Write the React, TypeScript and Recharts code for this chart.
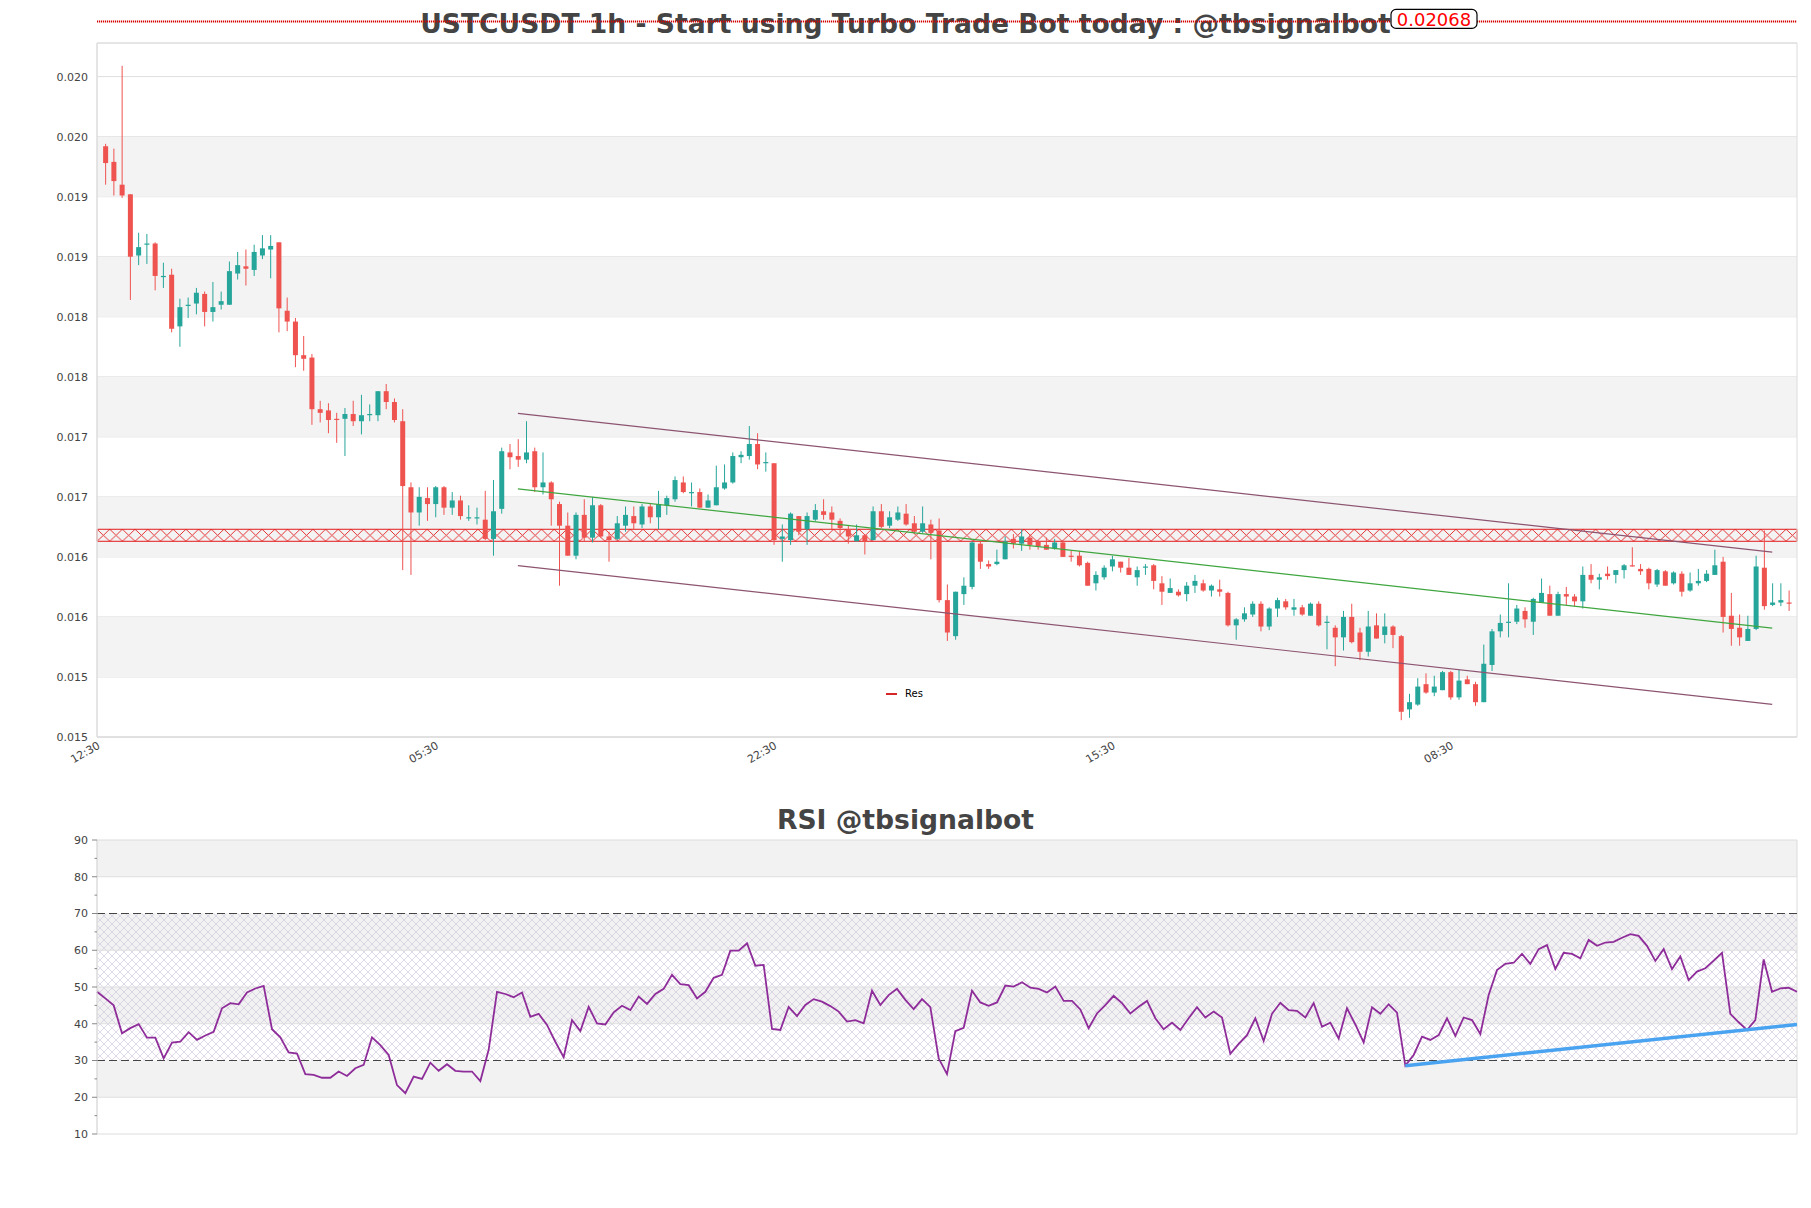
import React from 'react';
import {
  ComposedChart,
  Bar,
  Line,
  XAxis,
  YAxis,
  CartesianGrid,
  ReferenceArea,
  ReferenceLine,
  Legend,
} from 'recharts';

// ---- price data (hourly candles) ----
const opens = [
  0.01964, 0.01951, 0.01932, 0.01924, 0.01873, 0.01882, 0.01883, 0.01855, 0.01857, 0.01814,
  0.01831, 0.01833, 0.01841, 0.01826, 0.01832, 0.01832, 0.01858, 0.01864, 0.01861, 0.01873,
  0.01878, 0.01884, 0.01827, 0.01818, 0.0179, 0.01788, 0.01745, 0.01744, 0.01737, 0.01737,
  0.01741, 0.01735, 0.0174, 0.0174, 0.0176, 0.01751, 0.01735, 0.0168, 0.01659, 0.01671,
  0.01666, 0.0168, 0.01663, 0.01669, 0.01654, 0.01654, 0.01653, 0.01637, 0.01662, 0.01709,
  0.01706, 0.01703, 0.0171, 0.0168, 0.01684, 0.01666, 0.01648, 0.01623, 0.01657, 0.01638,
  0.01665, 0.01639, 0.01637, 0.01648, 0.01656, 0.01649, 0.01664, 0.01655, 0.01665, 0.0167,
  0.01684, 0.01675, 0.01676, 0.01663, 0.01665, 0.01679, 0.01684, 0.01705, 0.01706, 0.01716,
  0.017, 0.017, 0.01637, 0.01636, 0.01656, 0.01645, 0.01653, 0.0166, 0.01659, 0.01652,
  0.01645, 0.01635, 0.0164, 0.01636, 0.0166, 0.01648, 0.01653, 0.01658, 0.0165, 0.01643,
  0.01649, 0.01644, 0.01586, 0.01556, 0.01591, 0.01597, 0.01633, 0.01616, 0.01616, 0.0162,
  0.01637, 0.01633, 0.01638, 0.01635, 0.01632, 0.01629, 0.01634, 0.01623, 0.01623, 0.01617,
  0.016, 0.01605, 0.01614, 0.01618, 0.01613, 0.01605, 0.01613, 0.01615, 0.016, 0.01592,
  0.01593, 0.01591, 0.01598, 0.016, 0.01594, 0.01595, 0.01592, 0.01565, 0.0157, 0.01574,
  0.01583, 0.01564, 0.01579, 0.01585, 0.01578, 0.0158, 0.01573, 0.01583, 0.01567, 0.01563,
  0.01555, 0.01572, 0.01559, 0.01543, 0.01565, 0.01557, 0.01564, 0.01556, 0.01495, 0.01499,
  0.01516, 0.01509, 0.01511, 0.01526, 0.01505, 0.0152, 0.01516, 0.01501, 0.01532, 0.0156,
  0.01567, 0.01568, 0.01577, 0.01568, 0.01584, 0.01591, 0.01573, 0.01591, 0.01589, 0.01585,
  0.01607, 0.01603, 0.01608, 0.01607, 0.01611, 0.01615, 0.01612, 0.01612, 0.01599, 0.0161,
  0.016, 0.01608, 0.01594, 0.016, 0.01602, 0.01607, 0.01618, 0.01573, 0.01563, 0.01552,
  0.01562, 0.01613, 0.01582, 0.01584, 0.01584,
];

const highs = [
  0.01966, 0.01962, 0.02031, 0.01924, 0.01892, 0.01891, 0.01884, 0.01867, 0.01862, 0.01837,
  0.01838, 0.01846, 0.01843, 0.01851, 0.01843, 0.01868, 0.01876, 0.01878, 0.01882, 0.0189,
  0.0189, 0.01884, 0.01838, 0.01821, 0.01806, 0.01791, 0.01752, 0.0175, 0.01742, 0.01746,
  0.01752, 0.01757, 0.01749, 0.0176, 0.01766, 0.01754, 0.01745, 0.01684, 0.0168, 0.0168,
  0.01681, 0.01681, 0.01676, 0.01673, 0.01665, 0.01663, 0.01677, 0.01686, 0.01713, 0.01716,
  0.0172, 0.01735, 0.01713, 0.01709, 0.01685, 0.01668, 0.01659, 0.01659, 0.0167, 0.01672,
  0.01666, 0.01643, 0.01656, 0.01664, 0.01664, 0.01666, 0.01666, 0.01677, 0.01673, 0.01689,
  0.01689, 0.01684, 0.01679, 0.01674, 0.01698, 0.01699, 0.01709, 0.0171, 0.01731, 0.01725,
  0.01709, 0.017, 0.01649, 0.01659, 0.01656, 0.01659, 0.01666, 0.0167, 0.01664, 0.01654,
  0.01648, 0.01649, 0.01641, 0.01664, 0.01666, 0.0166, 0.01664, 0.01666, 0.01656, 0.01664,
  0.01653, 0.01654, 0.01599, 0.01593, 0.01605, 0.01635, 0.01635, 0.01619, 0.01628, 0.01639,
  0.01641, 0.01645, 0.01641, 0.01636, 0.01638, 0.01637, 0.01635, 0.01627, 0.01627, 0.01618,
  0.0161, 0.01615, 0.01623, 0.01618, 0.01621, 0.01614, 0.01616, 0.01616, 0.01606, 0.01604,
  0.01595, 0.01601, 0.01607, 0.01603, 0.01599, 0.01603, 0.01593, 0.01571, 0.0158, 0.01585,
  0.01585, 0.0158, 0.01588, 0.01587, 0.01587, 0.01582, 0.01584, 0.01585, 0.01573, 0.01565,
  0.01577, 0.01583, 0.01563, 0.01577, 0.01575, 0.01575, 0.01565, 0.01557, 0.01508, 0.01521,
  0.01525, 0.01523, 0.01527, 0.01527, 0.01528, 0.01523, 0.01518, 0.01549, 0.01562, 0.01574,
  0.016, 0.01582, 0.0158, 0.01588, 0.01604, 0.01598, 0.01593, 0.01597, 0.01591, 0.01614,
  0.01616, 0.01608, 0.01614, 0.01611, 0.01616, 0.0163, 0.01616, 0.01613, 0.01612, 0.01611,
  0.0161, 0.0161, 0.01609, 0.01612, 0.01611, 0.01628, 0.01622, 0.01592, 0.01574, 0.01573,
  0.01623, 0.01644, 0.016, 0.016, 0.01594,
];

const lows = [
  0.01932, 0.01923, 0.01921, 0.01836, 0.01865, 0.01866, 0.01844, 0.01846, 0.01809, 0.01797,
  0.01821, 0.01824, 0.01814, 0.01818, 0.01828, 0.01832, 0.01853, 0.01848, 0.01856, 0.0187,
  0.01854, 0.01809, 0.0181, 0.0178, 0.01777, 0.01732, 0.01734, 0.01725, 0.01717, 0.01706,
  0.01731, 0.01724, 0.01735, 0.01735, 0.01745, 0.01734, 0.01611, 0.01607, 0.01648, 0.01652,
  0.01655, 0.01657, 0.01657, 0.01653, 0.01652, 0.01649, 0.01636, 0.01623, 0.01658, 0.01695,
  0.01697, 0.017, 0.01676, 0.01674, 0.01648, 0.01598, 0.01623, 0.0162, 0.01635, 0.01634,
  0.01638, 0.01618, 0.01636, 0.01643, 0.01645, 0.01646, 0.0165, 0.01645, 0.01657, 0.01668,
  0.01675, 0.01664, 0.01663, 0.01663, 0.01665, 0.01678, 0.01683, 0.017, 0.01703, 0.01695,
  0.01693, 0.01632, 0.01618, 0.01632, 0.0164, 0.01632, 0.01652, 0.01653, 0.01645, 0.01639,
  0.01633, 0.01635, 0.01624, 0.01636, 0.01646, 0.01646, 0.01652, 0.01648, 0.01641, 0.01642,
  0.0162, 0.01584, 0.01552, 0.01553, 0.01582, 0.01595, 0.01612, 0.01612, 0.01615, 0.0162,
  0.01629, 0.01627, 0.01628, 0.01628, 0.01628, 0.01628, 0.01622, 0.01618, 0.01614, 0.01598,
  0.01594, 0.01603, 0.0161, 0.01609, 0.01607, 0.01598, 0.01607, 0.01595, 0.01582, 0.01592,
  0.01589, 0.01585, 0.01592, 0.01593, 0.01589, 0.01589, 0.01564, 0.01553, 0.01568, 0.01572,
  0.0156, 0.01561, 0.01572, 0.01578, 0.01573, 0.01573, 0.01573, 0.01564, 0.01545, 0.01531,
  0.01544, 0.0155, 0.01536, 0.01539, 0.01554, 0.0155, 0.01546, 0.01486, 0.01488, 0.01498,
  0.01508, 0.01506, 0.01511, 0.01503, 0.01503, 0.01516, 0.01498, 0.01501, 0.01527, 0.01555,
  0.01555, 0.01566, 0.01563, 0.01557, 0.01584, 0.01573, 0.01573, 0.01582, 0.01581, 0.01579,
  0.016, 0.01595, 0.01603, 0.016, 0.01604, 0.01614, 0.01607, 0.01595, 0.01597, 0.01598,
  0.01599, 0.01589, 0.01593, 0.01598, 0.01601, 0.01607, 0.01559, 0.01548, 0.01548, 0.01552,
  0.01561, 0.01578, 0.01581, 0.01581, 0.01577,
];

const closes = [
  0.0195, 0.01935, 0.01923, 0.01872, 0.0188, 0.01883, 0.01856, 0.01856, 0.01812, 0.0183,
  0.01832, 0.01842, 0.01826, 0.0183, 0.01835, 0.0186, 0.01865, 0.01862, 0.01876, 0.01879,
  0.01881, 0.01829, 0.01818, 0.0179, 0.01787, 0.01745, 0.01742, 0.01736, 0.01736, 0.01741,
  0.01735, 0.0174, 0.01741, 0.0176, 0.01751, 0.01736, 0.01681, 0.01659, 0.01672, 0.01666,
  0.0168, 0.01663, 0.01669, 0.01656, 0.01655, 0.01655, 0.01637, 0.0166, 0.0171, 0.01705,
  0.01703, 0.01709, 0.0168, 0.01684, 0.0167, 0.01648, 0.01623, 0.01657, 0.01638, 0.01665,
  0.01639, 0.01636, 0.0165, 0.01657, 0.0165, 0.01664, 0.01655, 0.01666, 0.01671, 0.01686,
  0.01676, 0.01676, 0.01663, 0.01669, 0.0168, 0.01684, 0.01706, 0.01707, 0.01716, 0.01699,
  0.01701, 0.01636, 0.01639, 0.01658, 0.01643, 0.01656, 0.01661, 0.01657, 0.01653, 0.01646,
  0.01639, 0.0164, 0.01635, 0.0166, 0.01647, 0.01655, 0.01659, 0.01649, 0.01643, 0.0165,
  0.01642, 0.01586, 0.01559, 0.01593, 0.01598, 0.01634, 0.01618, 0.01614, 0.01618, 0.01635,
  0.01633, 0.01639, 0.01632, 0.01631, 0.01628, 0.01634, 0.01622, 0.01622, 0.01615, 0.01598,
  0.01607, 0.01613, 0.0162, 0.01613, 0.01607, 0.01611, 0.01614, 0.01602, 0.01593, 0.01596,
  0.0159, 0.01598, 0.01602, 0.01594, 0.01598, 0.01593, 0.01565, 0.0157, 0.01575, 0.01583,
  0.01564, 0.01579, 0.01586, 0.0158, 0.0158, 0.01574, 0.01583, 0.01565, 0.01568, 0.01555,
  0.01572, 0.01551, 0.01543, 0.01564, 0.01554, 0.01564, 0.01557, 0.01493, 0.01501, 0.01514,
  0.01509, 0.01514, 0.01526, 0.01505, 0.01519, 0.01516, 0.01501, 0.01533, 0.0156, 0.01567,
  0.01568, 0.01579, 0.0157, 0.01587, 0.01592, 0.01573, 0.01591, 0.01589, 0.01585, 0.01607,
  0.01603, 0.01605, 0.01606, 0.01611, 0.01615, 0.01614, 0.0161, 0.016, 0.01611, 0.01598,
  0.01609, 0.01593, 0.016, 0.01602, 0.01608, 0.01615, 0.01572, 0.01562, 0.01555, 0.01562,
  0.01614, 0.01581, 0.01584, 0.01586, 0.01583,
];

// ---- RSI ----
const rsiValues = [
  48.7, 46.9, 45.0, 37.4, 38.8, 39.9, 36.2, 36.2, 30.6, 34.9,
  35.1, 37.7, 35.6, 36.8, 37.8, 44.2, 45.6, 45.3, 48.5, 49.6,
  50.3, 38.5, 36.3, 32.2, 31.9, 26.3, 26.1, 25.3, 25.3, 27.0,
  25.8, 27.9, 28.8, 36.3, 34.2, 31.5, 23.3, 21.1, 25.6, 25.0,
  29.4, 27.2, 29.0, 27.2, 27.0, 27.0, 24.4, 32.9, 48.7, 48.1,
  47.2, 48.5, 41.9, 42.7, 39.7, 35.1, 30.9, 41.0, 38.0, 44.6,
  40.1, 39.8, 43.1, 44.9, 43.7, 47.4, 45.4, 48.1, 49.5, 53.3,
  50.8, 50.5, 46.9, 48.7, 52.5, 53.3, 59.9, 59.9, 61.9, 55.8,
  56.0, 38.6, 38.3, 44.6, 42.1, 45.1, 46.7, 46.0, 44.8, 43.3,
  40.6, 41.0, 40.1, 49.0, 45.1, 47.8, 49.5, 46.5, 44.0, 46.7,
  44.5, 30.6, 26.3, 38.0, 38.9, 49.0, 45.8, 44.9, 45.8, 50.4,
  50.1, 51.3, 49.8, 49.5, 48.5, 50.1, 46.2, 46.2, 43.9, 38.8,
  42.8, 45.1, 47.6, 45.6, 42.8, 44.6, 46.2, 41.5, 38.5, 40.3,
  38.3, 41.5, 44.5, 41.7, 43.3, 41.7, 31.8, 34.5, 36.9, 41.5,
  35.3, 42.7, 45.7, 43.7, 43.5, 41.7, 45.6, 39.2, 40.3, 36.0,
  44.2, 39.8, 34.9, 44.5, 42.7, 45.3, 43.0, 28.6, 31.5, 36.5,
  35.6, 36.9, 41.5, 36.7, 41.7, 41.0, 37.2, 47.8, 54.6, 56.3,
  56.6, 59.0, 56.3, 60.3, 61.4, 54.9, 59.3, 59.0, 57.8, 62.8,
  61.2, 62.1, 62.3, 63.4, 64.4, 63.9, 61.2, 57.1, 60.3, 54.9,
  58.3, 51.9, 54.2, 55.1, 57.2, 59.3, 42.7, 40.4, 38.3, 41.0,
  57.5, 48.7, 49.6, 49.8, 48.7,
];

// ---- axes / annotations ----
const xTickIdx = [-1, 40, 81, 122, 163];
const xTickLabels = ['12:30', '05:30', '22:30', '15:30', '08:30'];
const yTicks = [0.01472, 0.01522, 0.01572, 0.01622, 0.01672, 0.01722, 0.01772, 0.01822, 0.01872, 0.01922, 0.01972, 0.02022];
const yTickLabels = ['0.015', '0.015', '0.016', '0.016', '0.017', '0.017', '0.018', '0.018', '0.019', '0.019', '0.020', '0.020'];
const priceBands = [[0.01522, 0.01572], [0.01622, 0.01672], [0.01722, 0.01772], [0.01822, 0.01872], [0.01922, 0.01972]];
const resZone = [0.01635, 0.01645];
const channelUpper = [{ x: 50, y: 0.017416 }, { x: 202, y: 0.016259 }];
const channelMid = [{ x: 50, y: 0.016787 }, { x: 202, y: 0.015626 }];
const channelLower = [{ x: 50, y: 0.016148 }, { x: 202, y: 0.014992 }];
const markPrice = 0.02068;

const rsiTicks = [10, 15, 20, 25, 30, 35, 40, 45, 50, 55, 60, 65, 70, 75, 80, 85, 90];
const rsiGrid = [20, 40, 50, 60, 80];
const rsiBands = [[20, 30], [40, 50], [60, 70], [80, 90]];
const rsiTrend = [{ x: 157, y: 28.6 }, { x: 204, y: 39.8 }];

const candles = opens.map((o, i) => ({ idx: i, open: o, high: highs[i], low: lows[i], close: closes[i] }));
const rsiData = rsiValues.map((v, k) => ({ k, rsi: v }));

const UP = '#26a69a';
const DOWN = '#ef5350';
const FONT = '"DejaVu Sans", sans-serif';

const Candle = (props: any) => {
  const { x, y, width, height, payload } = props;
  if (x == null || y == null || !payload) return null;
  const { open, close, high, low } = payload;
  const top = Math.min(y, y + height);
  const bot = Math.max(y, y + height);
  const span = high - low;
  const toY = (p: number) => (span > 0 ? top + ((high - p) / span) * (bot - top) : top);
  const cx = x + width / 2;
  const color = close >= open ? UP : DOWN;
  const bTop = toY(Math.max(open, close));
  const bBot = toY(Math.min(open, close));
  return (
    <g>
      <line x1={cx} x2={cx} y1={top} y2={bot} stroke={color} strokeWidth={1} />
      <rect x={cx - 2.5} y={bTop} width={5} height={Math.max(bBot - bTop, 1)} fill={color} />
    </g>
  );
};

const RsiTick = (props: any) => {
  const { x, y, payload } = props;
  const major = payload.value % 10 === 0;
  return (
    <g>
      <line x1={x + (major ? 4 : 6.5)} x2={x + 9} y1={y} y2={y} stroke="#888" strokeWidth={1} />
      {major && (
        <text x={x} y={y} dy="0.35em" textAnchor="end" fontSize={11} fill="#444" fontFamily={FONT}>
          {payload.value}
        </text>
      )}
    </g>
  );
};

const PriceTag = (props: any) => {
  const vb = props.viewBox || {};
  const x0 = (vb.x || 0) + 1294;
  const y0 = vb.y || 0;
  return (
    <g>
      <rect x={x0} y={y0 - 12} width={86} height={19} rx={5} fill="#fff" stroke="#000" strokeWidth={1.2} />
      <text x={x0 + 43} y={y0 + 4.5} textAnchor="middle" fontSize={18} fill="#ff0000" fontFamily={FONT}>
        {markPrice.toFixed(5)}
      </text>
    </g>
  );
};

const ResLegend = () => (
  <div style={{ display: 'flex', alignItems: 'center', fontSize: 10, color: '#000', fontFamily: FONT }}>
    <span style={{ display: 'inline-block', width: 11, height: 2, background: '#d62728', marginRight: 8 }} />
    Res
  </div>
);

const yLabel = (v: number) => {
  let best = 0;
  yTicks.forEach((t, i) => {
    if (Math.abs(t - v) < Math.abs(yTicks[best] - v)) best = i;
  });
  return yTickLabels[best];
};

const xLabel = (v: number) => {
  const i = xTickIdx.indexOf(Math.round(v));
  return i >= 0 ? xTickLabels[i] : '';
};

const titleStyle: React.CSSProperties = {
  position: 'absolute',
  left: 0,
  width: 1811,
  textAlign: 'center',
  fontFamily: FONT,
  fontWeight: 'bold',
  fontSize: 26.6,
  lineHeight: '27px',
  color: '#444',
  whiteSpace: 'nowrap',
};

export default function App() {
  return (
    <div style={{ position: 'absolute', left: 0, top: 0, width: 1811, height: 1208, background: '#fff', fontFamily: FONT }}>
      <div style={{ ...titleStyle, top: 10 }}>USTCUSDT 1h - Start using Turbo Trade Bot today : @tbsignalbot</div>
      <div style={{ ...titleStyle, top: 806 }}>RSI @tbsignalbot</div>

      <div style={{ position: 'absolute', left: 0, top: 0 }}>
        <ComposedChart width={1811} height={800} data={candles} margin={{ top: 43, right: 14, bottom: 13, left: 37 }}>
          <defs>
            <pattern id="resHatch" patternUnits="objectBoundingBox" patternContentUnits="userSpaceOnUse" width={12.7 / 1700} height={1}>
              <path d="M0 0 L12.7 12 M12.7 0 L0 12" stroke="#e31a1c" strokeWidth={0.9} fill="none" />
            </pattern>
          </defs>
          {priceBands.map((b, i) => (
            <ReferenceArea key={`pb${i}`} y1={b[0]} y2={b[1]} fill="#f3f3f3" fillOpacity={1} stroke="none" />
          ))}
          <CartesianGrid vertical={false} stroke="#dedede" />
          <XAxis
            dataKey="idx"
            type="number"
            domain={[-1, 205]}
            ticks={xTickIdx}
            interval={0}
            tickFormatter={xLabel}
            angle={-30}
            textAnchor="end"
            tickLine={false}
            tickSize={0}
            tickMargin={4}
            height={50}
            axisLine={{ stroke: '#dcdcdc' }}
            tick={{ fontSize: 11, fill: '#444', fontFamily: FONT }}
          />
          <YAxis
            type="number"
            domain={[0.01472, 0.0205]}
            allowDataOverflow
            ticks={yTicks}
            interval={0}
            tickFormatter={yLabel}
            width={60}
            tickLine={false}
            tickSize={5}
            tickMargin={4}
            axisLine={{ stroke: '#dcdcdc' }}
            tick={{ fontSize: 11, fill: '#444', fontFamily: FONT }}
          />
          <Bar dataKey={(d: any) => [d.low, d.high]} barSize={5} shape={<Candle />} isAnimationActive={false} />
          <ReferenceArea
            y1={resZone[0]}
            y2={resZone[1]}
            fill="url(#resHatch)"
            fillOpacity={1}
            stroke="#e31a1c"
            strokeWidth={1}
          />
          <ReferenceLine segment={channelUpper} stroke="#8c5470" strokeWidth={1.2} />
          <ReferenceLine segment={channelMid} stroke="#3fa63f" strokeWidth={1.2} />
          <ReferenceLine segment={channelLower} stroke="#8c5470" strokeWidth={1.2} />
          <ReferenceArea x1={-1} x2={205} y1={0.01472} y2={0.0205} fill="none" stroke="#dcdcdc" />
          <ReferenceLine
            y={markPrice}
            ifOverflow="visible"
            stroke="#d40000"
            strokeWidth={2}
            strokeDasharray="1.2 0.8"
            label={<PriceTag />}
          />
          <Legend
            layout="horizontal"
            verticalAlign="middle"
            align="center"
            content={<ResLegend />}
            wrapperStyle={{ left: 886, top: 688, width: 60, height: 14 }}
          />
        </ComposedChart>
      </div>

      <div style={{ position: 'absolute', left: 0, top: 780 }}>
        <ComposedChart width={1811} height={400} data={rsiData} margin={{ top: 60, right: 14, bottom: 46, left: 37 }}>
          <defs>
            <pattern id="rsiHatch" patternUnits="userSpaceOnUse" width={8} height={8}>
              <path d="M0 0 L8 8 M8 0 L0 8" stroke="#cbbfd8" strokeWidth={0.6} fill="none" />
            </pattern>
          </defs>
          {rsiBands.map((b, i) => (
            <ReferenceArea key={`rb${i}`} y1={b[0]} y2={b[1]} fill="#f2f2f2" fillOpacity={1} stroke="none" />
          ))}
          <ReferenceArea y1={30} y2={70} fill="url(#rsiHatch)" fillOpacity={1} stroke="none" />
          {rsiGrid.map((v) => (
            <ReferenceLine key={`rg${v}`} y={v} stroke="#dedede" />
          ))}
          <ReferenceLine y={70} stroke="#444" strokeDasharray="8 4" strokeWidth={1.2} />
          <ReferenceLine y={30} stroke="#444" strokeDasharray="8 4" strokeWidth={1.2} />
          <XAxis dataKey="k" type="number" domain={[0, 204]} hide />
          <YAxis
            type="number"
            domain={[10, 90]}
            ticks={rsiTicks}
            interval={0}
            width={60}
            tickLine={false}
            tickSize={5}
            tickMargin={4}
            axisLine={{ stroke: '#dcdcdc' }}
            tick={<RsiTick />}
          />
          <Line dataKey="rsi" stroke="#8e2c9a" strokeWidth={1.8} dot={false} isAnimationActive={false} />
          <ReferenceLine segment={rsiTrend} stroke="#4aa3f0" strokeWidth={3.5} />
          <ReferenceArea x1={0} x2={204} y1={10} y2={90} fill="none" stroke="#dcdcdc" />
        </ComposedChart>
      </div>
    </div>
  );
}
